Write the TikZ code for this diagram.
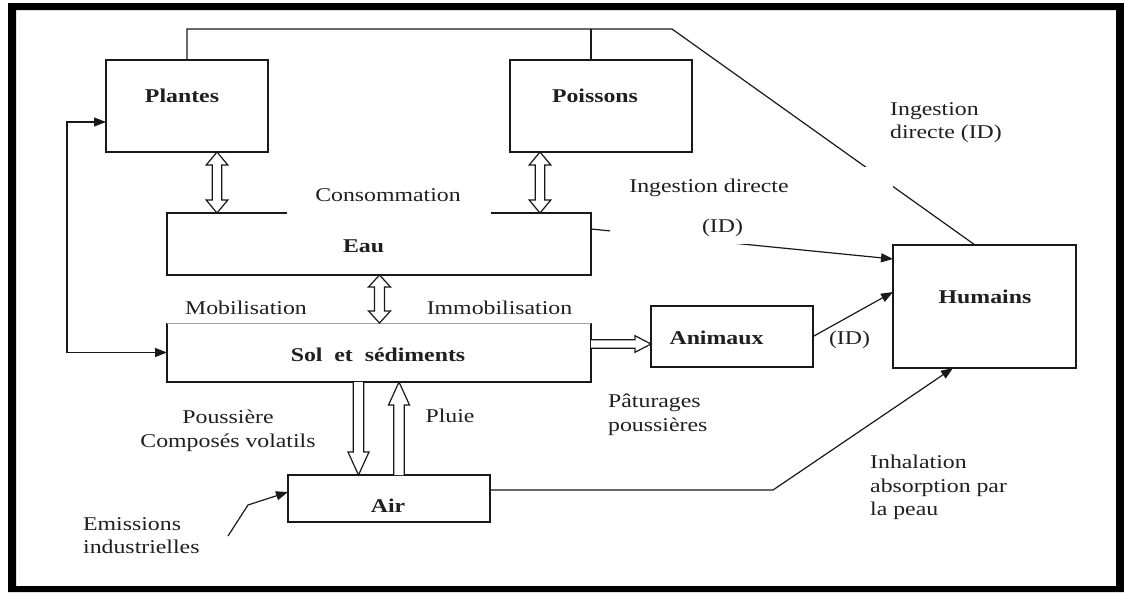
\documentclass[tikz,border=0pt]{standalone}
\usepackage{fontspec}
\setmainfont{Liberation Serif}[FakeStretch=1.22]
\usetikzlibrary{calc,arrows.meta}

% hollow double-headed block arrow along a vertical line
% #1 x, #2 upper anchor, #3 lower anchor, #4 head length, #5 head half-width, #6 shaft half-width
\newcommand\hollowdoubleV[6]{%
  \draw[hollow] (#1,0 |- #2)
    -- ($(#1,0 |- #2)+(#5,#4)$) -- ($(#1,0 |- #2)+(#6,#4)$)
    -- ($(#1,0 |- #3)+(#6,-#4)$) -- ($(#1,0 |- #3)+(#5,-#4)$)
    -- (#1,0 |- #3)
    -- ($(#1,0 |- #3)+(-#5,-#4)$) -- ($(#1,0 |- #3)+(-#6,-#4)$)
    -- ($(#1,0 |- #2)+(-#6,#4)$) -- ($(#1,0 |- #2)+(-#5,#4)$) -- cycle;}

% hollow single-headed block arrow along a vertical line
% #1 x, #2 tail anchor, #3 tip anchor, #4 signed head length (+ when pointing down), #5 head half-width, #6 shaft half-width
\newcommand\hollowsingleV[6]{%
  \draw[hollow] ($(#1,0 |- #2)+({-(#6)},0)$)
    -- ($(#1,0 |- #3)+({-(#6)},{-(#4)})$) -- ($(#1,0 |- #3)+({-(#5)},{-(#4)})$)
    -- (#1,0 |- #3)
    -- ($(#1,0 |- #3)+(#5,{-(#4)})$) -- ($(#1,0 |- #3)+(#6,{-(#4)})$)
    -- ($(#1,0 |- #2)+(#6,0)$);}

\begin{document}
\begin{tikzpicture}[x=1pt,y=-1pt,
  boxline/.style={line width=1.4pt, draw=black!90},
  box/.style={boxline, outer sep=0pt, inner sep=0pt},
  conn/.style={line width=1.2pt, draw=black!90},
  tip/.style={-{Triangle[length=12pt,width=9pt]}},
  hollow/.style={line width=1.2pt, draw=black!90, fill=white, line join=miter},
  faint/.style={line width=1pt, draw=black!35},
  mask/.style={fill=white, draw=none},
  txt/.style={font=\fontsize{19.5}{23.5}\selectfont, text=black!88, inner sep=0pt,
              text height=13.5pt, text depth=4pt},
  bold/.style={txt, font=\fontsize{19.5}{23.5}\selectfont\bfseries},
  multi/.style={font=\fontsize{19.5}{23.5}\selectfont, text=black!88, inner sep=0pt, align=left},
]
\useasboundingbox (0,0) rectangle (1124,592);
\fill[white] (0,0) rectangle (1124,592);
% thick outer frame
\fill[black, even odd rule] (8,3) rectangle (1124,592) (16,10) rectangle (1116,586);

% compartments
\node[box, minimum width=162, minimum height=92] (plantes) at (187,106) {};
\node[box, minimum width=182, minimum height=92] (poissons) at (601,106) {};
\node[box, minimum width=424, minimum height=62] (eau) at (379,244) {};
\node[outer sep=0pt, inner sep=0pt, minimum width=424, minimum height=59] (sol) at (379,352.5) {};
\draw[boxline] (sol.north west) -- (sol.south west) -- (sol.south east) -- (sol.north east);
\draw[faint] (sol.north west) -- (sol.north east);
\node[box, minimum width=162, minimum height=61] (animaux) at (732,336.5) {};
\node[box, minimum width=183, minimum height=123] (humains) at (984.5,306.5) {};
\node[box, minimum width=202, minimum height=47] (air) at (389,498.5) {};

% compartment names
\node[bold] (plantes-t) at (182,97.25) {Plantes};
\node[bold] (poissons-t) at (595,98) {Poissons};
\node[bold] (eau-t) at (363.5,248) {Eau};
\node[bold] (sol-t) at (378,356.5) {Sol\ \ et\ \ sédiments};
\node[bold] (animaux-t) at (716.5,340) {Animaux};
\node[bold] (humains-t) at (985,299) {Humains};
\node[bold] (air-t) at (388,507.5) {Air};

% transfer lines
\coordinate (topturn) at (672,29);
\draw[conn] (plantes.north) |- (topturn) -- (975,0 |- humains.north);
\draw[conn] (591,0 |- poissons.north) -- (591,0 |- topturn);
\draw[conn,tip] ($(eau.north east)+(0,16)$) -- ($(humains.north west)+(0,14)$);
\draw[conn,tip] (animaux.east) -- ($(humains.north west)+(0,47)$);
\coordinate (airbend) at (773,490);
\draw[conn,tip] ($(air.north east)+(0,15)$) -- (airbend) -- (953,0 |- humains.south);
\coordinate (emis-from) at (228,536);
\coordinate (emis-bend) at (248,505);
\draw[conn,tip] (emis-from) -- (emis-bend) -- ($(air.north west)+(0,17)$);
\draw[conn,{Triangle[length=12pt,width=9pt]}-{Triangle[length=12pt,width=9pt]}]
  ($(plantes.north west)+(0,62)$) -| (67,0 |- sol.west) -- (sol.west);

% block arrows
\hollowdoubleV{217}{plantes.south}{eau.north}{13}{10.8}{4.8}
\hollowdoubleV{540}{poissons.south}{eau.north}{13}{10.8}{4.8}
\hollowdoubleV{379.5}{eau.south}{sol.north}{12}{11}{5}
\hollowsingleV{358.5}{sol.south}{air.north}{23}{10.5}{5.3}
\hollowsingleV{399}{air.north}{sol.south}{-23}{10.5}{5.3}
\draw[hollow] ($(sol.east |- 0,344)+(0,-4.2)$)
  -- ($(animaux.west |- 0,344)+(-16,-4.2)$) -- ($(animaux.west |- 0,344)+(-16,-8.3)$)
  -- (animaux.west |- 0,344)
  -- ($(animaux.west |- 0,344)+(-16,8.3)$) -- ($(animaux.west |- 0,344)+(-16,4.2)$)
  -- ($(sol.east |- 0,344)+(0,4.2)$);

% opaque label backgrounds
\fill[mask] (287,176) rectangle (491,216);
\fill[mask] (610,167) rectangle (893,244);

% labels
\node[txt] (consommation) at (388,197) {Consommation};
\node[txt] (ing-mid) at (709,187.5) {Ingestion directe};
\node[txt] (id-mid) at (722.5,227.5) {(ID)};
\node[multi, anchor=north west] (ing-top) at (890,102) {Ingestion\\directe (ID)};
\node[txt] (mobil) at (246,310) {Mobilisation};
\node[txt] (immobil) at (499.5,310) {Immobilisation};
\node[txt] (id-anim) at (849.5,339.5) {(ID)};
\node[multi, align=center, anchor=north] (pouss) at (228,410) {Poussière\\Composés volatils};
\node[txt] (pluie) at (450,418) {Pluie};
\node[multi, anchor=north west] (patur) at (608,394) {Pâturages\\poussières};
\node[multi, anchor=north west] (inhal) at (870,455) {Inhalation\\absorption par\\la peau};
\node[multi, anchor=north west] (emis) at (83,517) {Emissions\\industrielles};
\end{tikzpicture}
\end{document}
